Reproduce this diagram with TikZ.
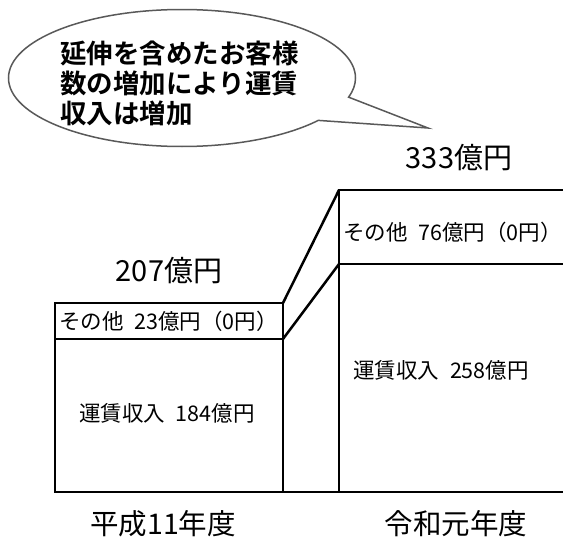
\documentclass[tikz,border=0pt]{standalone}
\usepackage{fontspec}
\setmainfont{Noto Sans CJK JP}[BoldFont={Noto Sans CJK JP Bold}]
\usetikzlibrary{positioning,shapes.callouts}

\tikzset{
  seg/.style={draw, rectangle, inner sep=0pt, outer sep=0pt, anchor=north west},
  lbl/.style={font=\fontsize{21.5}{26}\selectfont, inner xsep=0pt, inner ysep=2pt},
  total/.style={font=\fontsize{29}{32}\selectfont},
  year/.style={font=\fontsize{28.5}{32}\selectfont, inner sep=0pt},
  bubble/.style={ellipse callout, draw=black!65, line width=1.5pt, fill=white,
    minimum width=347pt, minimum height=137pt, callout pointer arc=22},
  bubtxt/.style={font=\fontsize{26.5}{30}\selectfont\bfseries, align=left, inner sep=0pt}
}

\begin{document}
\begin{tikzpicture}[x=1pt,y=-1pt,line width=2.5pt]
\useasboundingbox (0,0) rectangle (563,538);
\clip (0,0) rectangle (563,538);
% callout
\node[bubble, callout absolute pointer={(428,128)}] (bub) at (182,78) {};
\node[bubtxt, anchor=west] (bubt) at (59,83) {延伸を含めたお客様\\数の増加により運賃\\収入は増加};
% Heisei 11
\node[seg, minimum width=228pt, minimum height=36pt] (oth1) at (55,303) {};
\node[seg, minimum width=228pt, minimum height=153pt] (fare1) at (55,339) {};
% Reiwa 1
\node[seg, minimum width=240pt, minimum height=74pt] (oth2) at (339,190) {};
\node[seg, minimum width=240pt, minimum height=228pt] (fare2) at (339,264) {};
\draw (fare1.south east) -- (fare2.south west);
\draw (oth1.north east) -- (oth2.north west);
\draw (fare1.north east) -- (fare2.north west);
% labels
\node[lbl, anchor=west] (oth1l) at ([xshift=3pt]oth1.west) {その他\enspace 23億円（0円）};
\node[lbl] (fare1l) at ([xshift=-2pt,yshift=2pt]fare1.center) {運賃収入\enspace 184億円};
\node[lbl, anchor=west] (oth2l) at ([xshift=3pt,yshift=-5pt]oth2.west) {その他\enspace 76億円（0円）};
\node[lbl, anchor=west] (fare2l) at ([xshift=13pt,yshift=8pt]fare2.west) {運賃収入\enspace 258億円};
\node[total, above=15pt of oth1] (tot1) {207億円};
\node[total, above=15pt of oth2] (tot2) {333億円};
\node[year, below=17pt of fare1, xshift=-6pt] (yr1) {平成11年度};
\node[year, below=17pt of fare2, xshift=-3pt] (yr2) {令和元年度};
\end{tikzpicture}
\end{document}
